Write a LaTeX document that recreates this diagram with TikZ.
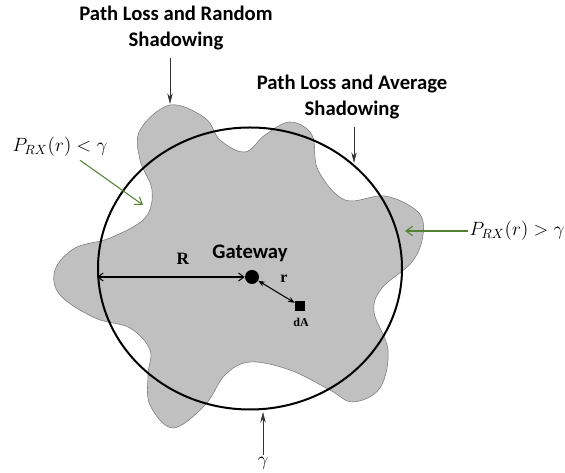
\documentclass[tikz,border=0pt]{standalone}
\usepackage{amsmath}
\usepackage{fontspec}
\usepackage{tikz}
\usetikzlibrary{arrows.meta,calc,shapes.geometric}
\newfontfamily\labelfont{Carlito}
\newfontfamily\tnrfont{Liberation Serif}
\definecolor{shadegray}{RGB}{192,192,192}
\definecolor{shadeedge}{RGB}{120,120,120}
\definecolor{pointgreen}{RGB}{84,130,53}

\begin{document}
\begin{tikzpicture}[x=0.75pt,y=-0.75pt,
  lbl/.style={font=\labelfont\bfseries\fontsize{15.5}{20}\selectfont,align=center,inner sep=1pt},
  mathlbl/.style={font=\fontsize{14}{16}\selectfont,inner sep=1pt},
  pointer/.style={-{Stealth[length=8pt,width=4pt]},black!80},
  greenptr/.style={-{Straight Barb[length=5pt,width=7pt]},pointgreen,thick}]
  \useasboundingbox (0,0) rectangle (565,473);
  \draw[shadeedge,fill=shadegray,thin] plot[smooth cycle,tension=0.6] coordinates {
    (170,105) (205,118) (220,140) (245,152) (265,135) (290,122) (312,135)
    (318,170) (345,200) (385,196) (418,212) (423,235) (412,262) (382,288)
    (374,312) (388,350) (380,388) (353,402) (330,390) (290,370) (250,362)
    (225,375) (205,405) (173,428) (150,405) (148,375) (150,350) (130,328)
    (95,318) (60,295) (55,270) (75,248) (110,238) (145,218) (152,190)
    (140,160) (140,130)};
  \node[draw,ellipse,line width=1.5pt,inner sep=0,minimum width=228pt,minimum height=211.5pt] (cov) at (250,268.5) {};
  \node[circle,fill,inner sep=0,minimum size=10.5pt] (gw) at (252,277) {};
  \node[fill,inner sep=0,minimum size=7.5pt] (da) at (300,306) {};
  \node[lbl] (gwlbl) at (250,253) {Gateway};
  \node[font=\tnrfont\bfseries\fontsize{9}{10}\selectfont,inner sep=0] (dalbl) at (301,322) {dA};
  \node[font=\tnrfont\bfseries\fontsize{13}{14}\selectfont,inner sep=0] (Rlbl) at (183,259) {R};
  \node[font=\tnrfont\bfseries\fontsize{12}{13}\selectfont,inner sep=0] (rlbl) at (284,279) {r};
  \draw[{Straight Barb[length=4pt,width=6pt]}-{Straight Barb[length=4pt,width=6pt]},thick] (cov.west |- gw) -- (gw.west);
  \draw[{Stealth[length=5pt,width=4pt]}-{Stealth[length=5pt,width=4pt]},thick] (gw) -- (da);
  \node[lbl] (plrs) at (176,28) {Path Loss and Random\\Shadowing};
  \node[lbl] (plas) at (352,97) {Path Loss and Average\\Shadowing};
  \coordinate (peak) at (170,104);
  \coordinate (avg) at (354,163);
  \draw[pointer] ($(plrs.south -| peak)+(0,6)$) -- (peak);
  \draw[pointer] ($(plas.south -| avg)+(0,6)$) -- (avg);
  \node[mathlbl] (lowlbl) at (60,147) {$P_{RX}(r) < \gamma$};
  \node[mathlbl] (highlbl) at (517,231) {$P_{RX}(r) > \gamma$};
  \coordinate (lowtip) at (143,205);
  \coordinate (hightip) at (405,231);
  \draw[greenptr] ($(lowlbl.south)+(20,2)$) -- (lowtip);
  \draw[greenptr] (highlbl.west) -- (hightip);
  \node[mathlbl] (gam) at (263,463) {$\gamma$};
  \coordinate (gamtip) at (263,412);
  \draw[pointer] (gam.north) -- (gamtip);
\end{tikzpicture}
\end{document}
